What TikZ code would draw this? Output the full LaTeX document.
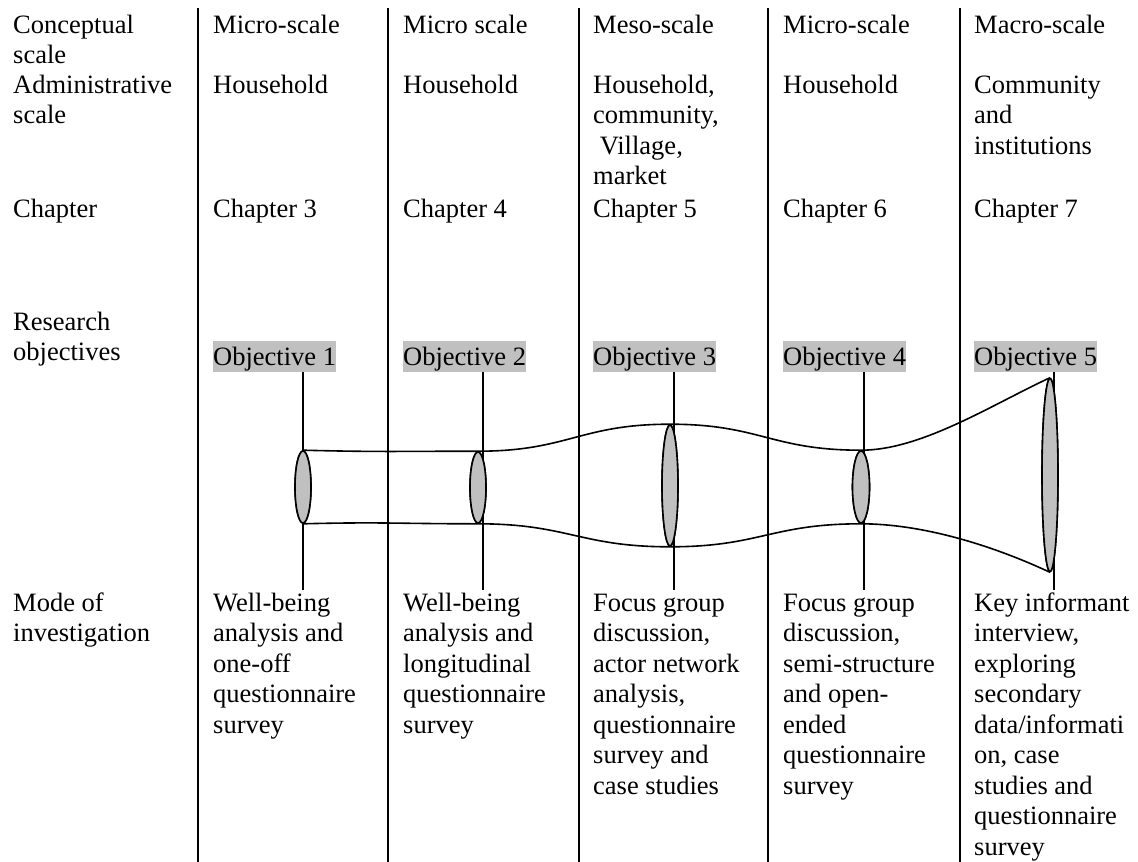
\documentclass[tikz,border=0pt]{standalone}
\usepackage{fontspec}
\setmainfont{Liberation Serif}
\usetikzlibrary{shapes.geometric}
\definecolor{objgray}{RGB}{192,192,192}

\begin{document}
\begin{tikzpicture}[x=1pt,y=-1pt,
	txt/.style={anchor=base west,align=left,inner sep=0pt,font=\fontsize{26.5}{30.5}\selectfont},
	obj/.style={txt,fill=objgray,text height=24pt,text depth=7pt},
	lens/.style={ellipse,draw,fill=objgray,line width=1.6pt,inner sep=0pt,minimum width=16pt},
	rule/.style={line width=2.2pt},
	wire/.style={line width=1.6pt}]
	\useasboundingbox (0,0) rectangle (1138,862);
	
	\foreach \x in {198,388,579,768,960} \draw[rule] (\x,8) -- (\x,862);
	
	% multi-line nodes sit on the baseline of their last line
	\node[txt] (cs0) at (13,63.5) {Conceptual\\scale}; \node[txt] (cs1) at (213,33) {Micro-scale}; \node[txt] (cs2) at (403,33) {Micro scale};
	\node[txt] (cs3) at (593,33) {Meso-scale}; \node[txt] (cs4) at (783,33) {Micro-scale}; \node[txt] (cs5) at (974,33) {Macro-scale};
	
	\node[txt] (as0) at (13,123.5) {Administrative\\scale}; \node[txt] (as1) at (213,93) {Household}; \node[txt] (as2) at (403,93) {Household};
	\node[txt] (as3) at (593,184.5) {Household,\\community,\\\ Village,\\market}; \node[txt] (as4) at (783,93) {Household}; \node[txt] (as5) at (974,154) {Community\\and\\institutions};
	
	\node[txt] (ch0) at (13,217) {Chapter}; \node[txt] (ch1) at (213,217) {Chapter 3}; \node[txt] (ch2) at (403,217) {Chapter 4};
	\node[txt] (ch3) at (593,217) {Chapter 5}; \node[txt] (ch4) at (783,217) {Chapter 6}; \node[txt] (ch5) at (974,217) {Chapter 7};
	
	\node[txt] (ro) at (13,360.5) {Research\\objectives};
	\node[obj] (o1) at (213,365) {Objective 1}; \node[obj] (o2) at (403,365) {Objective 2}; \node[obj] (o3) at (593,365) {Objective 3};
	\node[obj] (o4) at (783,365) {Objective 4}; \node[obj] (o5) at (974,365) {Objective 5};
	
	\coordinate (m1) at (303,590); \coordinate (m2) at (483,590); \coordinate (m3) at (674,590); \coordinate (m4) at (864,590); \coordinate (m5) at (1054,590);
	\draw[wire] (o1.south -| m1) -- (m1) (o2.south -| m2) -- (m2) (o3.south -| m3) -- (m3) (o4.south -| m4) -- (m4) (o5.south -| m5) -- (m5);
	
	\path (303,487) node[lens,minimum height=72pt] (e1) {} (478,487.5) node[lens,minimum height=71pt] (e2) {} (670,485.5) node[lens,minimum height=121pt] (e3) {}
		(861,487) node[lens,minimum height=72pt,minimum width=17pt] (e4) {} (1050,475) node[lens,minimum height=193pt] (e5) {};
	
	\draw[wire] (e1.north) ..controls +(80,2) and +(-80,0).. (e2.north) ..controls +(90,0) and +(-90,0).. (e3.north) ..controls +(90,0) and +(-90,0).. (e4.north) ..controls +(60,0) and +(-60,28).. (e5.north);
	\draw[wire] (e1.south) ..controls +(80,-2) and +(-80,0).. (e2.south) ..controls +(90,0) and +(-90,0).. (e3.south) ..controls +(90,0) and +(-90,0).. (e4.south) ..controls +(60,0) and +(-60,-28).. (e5.south);
	\path (303,487) node[lens,minimum height=72pt] {} (478,487.5) node[lens,minimum height=71pt] {} (670,485.5) node[lens,minimum height=121pt] {}
		(861,487) node[lens,minimum height=72pt,minimum width=17pt] {} (1050,475) node[lens,minimum height=193pt] {};
	
	\node[txt] (md0) at (13,641.5) {Mode of\\investigation};
	\node[txt] (md1) at (213,733) {Well-being\\analysis and\\one-off\\questionnaire\\survey};
	\node[txt] (md2) at (403,733) {Well-being\\analysis and\\longitudinal\\questionnaire\\survey};
	\node[txt] (md3) at (593,794) {Focus group\\discussion,\\actor network\\analysis,\\questionnaire\\survey and\\case studies};
	\node[txt] (md4) at (783,794) {Focus group\\discussion,\\semi-structure\\and open-\\ended\\questionnaire\\survey};
	\node[txt] (md5) at (974,855) {Key informant\\interview,\\exploring\\secondary\\data/informati\\on, case\\studies and\\questionnaire\\survey};
\end{tikzpicture}
\end{document}
